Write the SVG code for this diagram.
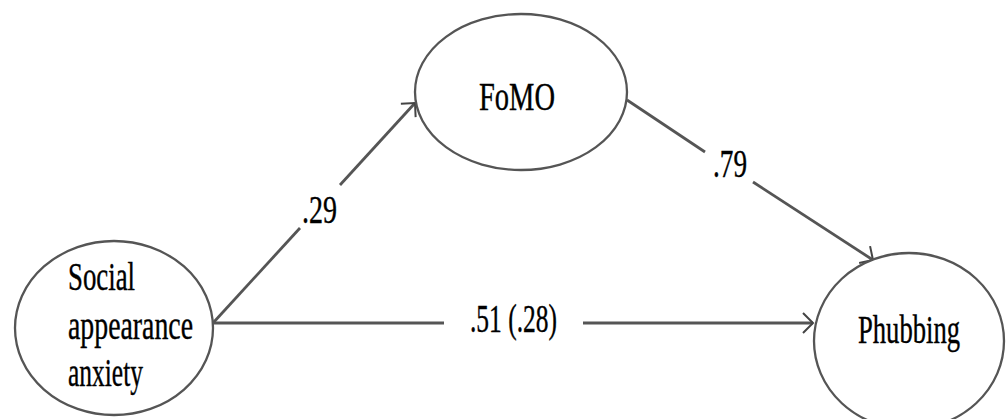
<svg xmlns="http://www.w3.org/2000/svg" width="1008" height="419" viewBox="0 0 1008 419">
<style>
.node{fill:#fff;stroke:#555;stroke-width:2.3}
.lbl{font-family:"Liberation Serif","Times New Roman",serif;font-size:40px;fill:#000;stroke:#000;stroke-width:0.4}
.edge{fill:none;stroke:#555;stroke-width:2.8}
</style>
<defs>
<marker id="arr" markerUnits="userSpaceOnUse" markerWidth="30" markerHeight="30" viewBox="-15 -15 30 30" refX="0" refY="0" orient="auto">
<path d="M-10,-10 L0,0 L-10,10" fill="none" stroke="#444" stroke-width="2"/>
</marker>
</defs>
<rect width="1008" height="419" fill="#fff"/>
<g id="connectors">
<line class="edge" x1="213" y1="323" x2="300" y2="228"/>
<line class="edge" x1="340" y1="185" x2="415" y2="103" marker-end="url(#arr)"/>
<line class="edge" x1="627" y1="100" x2="705" y2="152"/>
<line class="edge" x1="753" y1="182" x2="873" y2="260" marker-end="url(#arr)"/>
<line class="edge" x1="213" y1="323" x2="444" y2="323"/>
<line class="edge" x1="583" y1="323" x2="813" y2="323" marker-end="url(#arr)"/>
<text class="lbl" x="302" y="223" textLength="35" lengthAdjust="spacingAndGlyphs">.29</text>
<text class="lbl" x="713" y="177" textLength="34" lengthAdjust="spacingAndGlyphs">.79</text>
<text class="lbl" x="470" y="332" textLength="87" lengthAdjust="spacingAndGlyphs">.51 (.28)</text>
</g>
<g id="node-social">
<ellipse class="node" cx="114" cy="328" rx="99" ry="87"/>
<text class="lbl" x="68" y="290" textLength="67" lengthAdjust="spacingAndGlyphs">Social</text>
<text class="lbl" x="68" y="339" textLength="125" lengthAdjust="spacingAndGlyphs">appearance</text>
<text class="lbl" x="68" y="386" textLength="75" lengthAdjust="spacingAndGlyphs">anxiety</text>
</g>
<g id="node-fomo">
<ellipse class="node" cx="521" cy="92" rx="106" ry="78"/>
<text class="lbl" x="479" y="110" textLength="76" lengthAdjust="spacingAndGlyphs">FoMO</text>
</g>
<g id="node-phubbing">
<ellipse class="node" cx="909" cy="341" rx="95" ry="88"/>
<text class="lbl" x="858" y="343" textLength="102" lengthAdjust="spacingAndGlyphs">Phubbing</text>
</g>
</svg>
